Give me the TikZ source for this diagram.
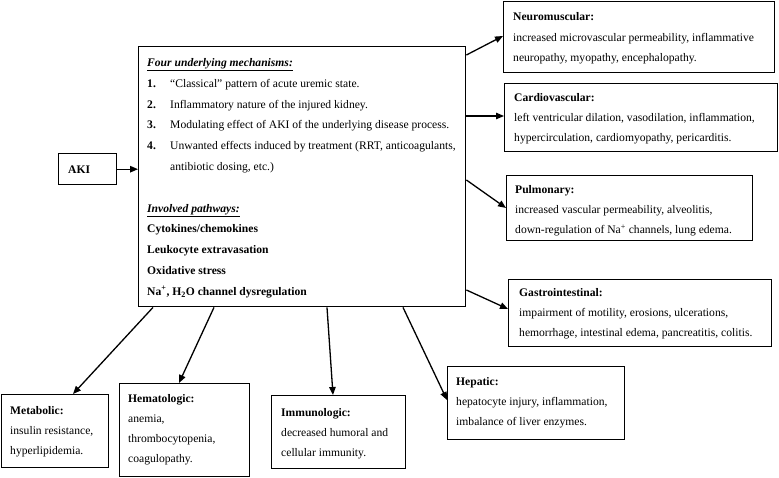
\documentclass[tikz,border=0pt]{standalone}
\usepackage{fontspec}
\setmainfont{Liberation Serif}
\usetikzlibrary{arrows.meta,calc}
\begin{document}
\begin{tikzpicture}[x=1pt,y=-1pt,
  box/.style={draw, line width=1.4pt, inner sep=0pt, anchor=north west},
  txt/.style={anchor=base west, inner sep=0pt, font=\fontsize{11.6}{20}\selectfont},
  maintxt/.style={anchor=base west, inner sep=0pt, font=\fontsize{11.6}{20.8}\selectfont},
  arr/.style={line width=1.3pt, -{Triangle[length=8pt,width=6.5pt]}}]
\useasboundingbox (0,0) rectangle (779,478);

% boxes
\node[box, minimum width=58pt, minimum height=31pt] (aki) at (58,153) {};
\node[box, minimum width=327pt, minimum height=260pt] (main) at (138,46) {};
\node[box, minimum width=271pt, minimum height=71pt] (neuro) at (503,1) {};
\node[box, minimum width=273pt, minimum height=68pt] (cardio) at (504,83) {};
\node[box, minimum width=246pt, minimum height=65pt] (pulm) at (506,175) {};
\node[box, minimum width=263pt, minimum height=67pt] (gastro) at (508,279) {};
\node[box, minimum width=177pt, minimum height=73pt] (hepatic) at (447,366) {};
\node[box, minimum width=107pt, minimum height=73pt] (metab) at (1,394) {};
\node[box, minimum width=130pt, minimum height=93pt] (hemat) at (119,383) {};
\node[box, minimum width=134pt, minimum height=73pt] (immuno) at (271,395) {};

% texts
\node[txt] (akit) at (68,174) {\textbf{AKI}};
\node[maintxt] (maint) at (147,66.5) {\parbox[t]{400pt}{%
\textbf{\textit{\underline{Four underlying mechanisms:}}}\\
\makebox[23pt][l]{\textbf{1.}}``Classical'' pattern of acute uremic state.\\
\makebox[23pt][l]{\textbf{2.}}Inflammatory nature of the injured kidney.\\
\makebox[23pt][l]{\textbf{3.}}Modulating effect of AKI of the underlying disease process.\\
\makebox[23pt][l]{\textbf{4.}}Unwanted effects induced by treatment (RRT, anticoagulants,\\
\hspace*{23pt}antibiotic dosing, etc.)\\
\mbox{}\\
\textbf{\textit{\underline{Involved pathways:}}}\\
\textbf{Cytokines/chemokines}\\
\textbf{Leukocyte extravasation}\\
\textbf{Oxidative stress}\\
\textbf{Na\textsuperscript{+}, H\textsubscript{2}O channel dysregulation}}};

\node[txt] (neurot) at (513,21) {\parbox[t]{300pt}{%
\textbf{Neuromuscular:}\\[1pt]
increased microvascular permeability, inflammative\\
neuropathy, myopathy, encephalopathy.}};
\node[txt] (cardiot) at (514,102) {\parbox[t]{300pt}{%
\textbf{Cardiovascular:}\\
left ventricular dilation, vasodilation, inflammation,\\
hypercirculation, cardiomyopathy, pericarditis.}};
\node[txt] (pulmt) at (515,194) {\parbox[t]{300pt}{%
\textbf{Pulmonary:}\\
increased vascular permeability, alveolitis,\\
down-regulation of Na\textsuperscript{+} channels, lung edema.}};
\node[txt] (gastrot) at (519,297) {\parbox[t]{300pt}{%
\textbf{Gastrointestinal:}\\
impairment of motility, erosions, ulcerations,\\
hemorrhage, intestinal edema, pancreatitis, colitis.}};
\node[txt] (hepatict) at (456,385) {\parbox[t]{300pt}{%
\textbf{Hepatic:}\\
hepatocyte injury, inflammation,\\
imbalance of liver enzymes.}};
\node[txt] (metabt) at (10,414) {\parbox[t]{300pt}{%
\textbf{Metabolic:}\\
insulin resistance,\\
hyperlipidemia.}};
\node[txt] (hematt) at (128,402) {\parbox[t]{300pt}{%
\textbf{Hematologic:}\\
anemia,\\
thrombocytopenia,\\
coagulopathy.}};
\node[txt] (immunot) at (281,416) {\parbox[t]{300pt}{%
\textbf{Immunologic:}\\
decreased humoral and\\
cellular immunity.}};

% connectors
\draw[arr] (aki.east) -- (aki.east -| main.west);
\draw[arr] ($(main.north east)+(0,9)$) -- ($(neuro.north west)+(0,35)$);
\draw[arr] ($(main.north east)+(0,70)$) -- ($(cardio.north west)+(0,33)$);
\draw[arr] ($(main.north east)+(0,134)$) -- ($(pulm.north west)+(0,33)$);
\draw[arr] ($(main.north east)+(0,244)$) -- ($(gastro.north west)+(0,30)$);
\draw[arr] ($(main.south west)+(15,0)$) -- ($(metab.north west)+(72,0)$);
\draw[arr] ($(main.south west)+(76,0)$) -- ($(hemat.north west)+(60,0)$);
\draw[arr] ($(main.south west)+(189,0)$) -- ($(immuno.north west)+(62,0)$);
\draw[arr] ($(main.south west)+(265,0)$) -- ($(hepatic.north west)+(0,34)$);
\end{tikzpicture}
\end{document}
